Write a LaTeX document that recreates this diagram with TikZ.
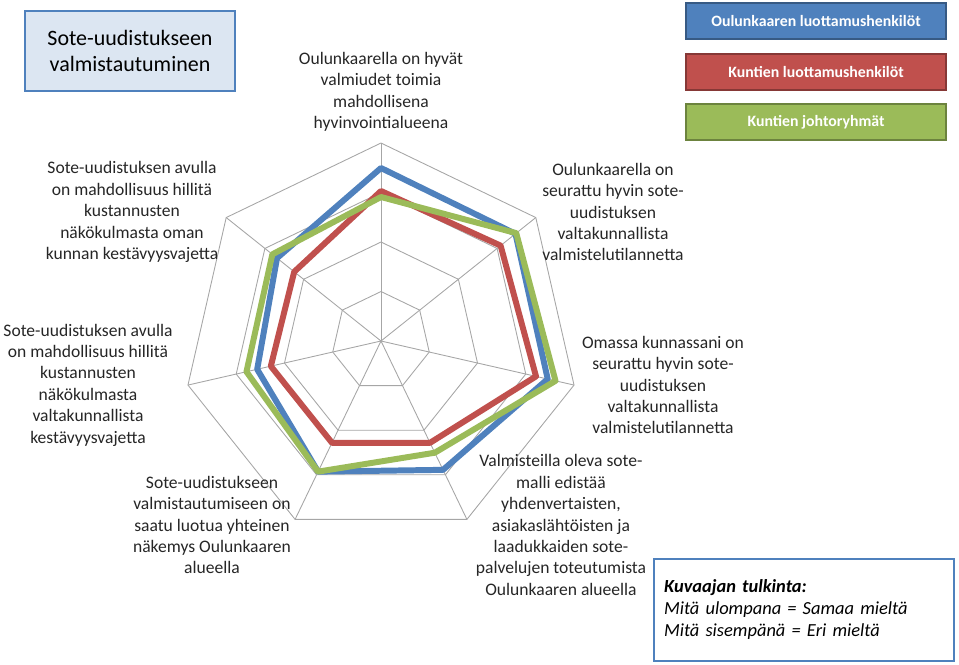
\documentclass[tikz,border=0pt]{standalone}
\usepackage{fontspec}
\setmainfont{Carlito}
\usepackage{tikz}
\definecolor{sblue}{HTML}{4F81BD}
\definecolor{sred}{HTML}{C0504D}
\definecolor{sgreen}{HTML}{9BBB59}
\definecolor{ink}{HTML}{262626}
\begin{document}
\begin{tikzpicture}[x=0.02cm,y=0.02cm,
  axis label/.style={align=center,text=ink,font=\fontsize{10}{12.2}\selectfont},
  legend box/.style={draw=#1!70!black,fill=#1,line width=1.2pt,minimum width=5.2cm,minimum height=0.72cm,text=white,font=\fontsize{9}{11}\bfseries\selectfont},
  series/.style={draw=#1,line width=3.4pt,line join=round}]

  \useasboundingbox (-381,-323) rectangle (578,341);

  % grid
  \foreach \r in {49.5,99,148.5,198}
    \draw[gray!70,line width=0.5pt] (90:\r) \foreach \k in {1,...,6} { -- ({90-\k*360/7}:\r) } -- cycle;
  \foreach \k in {0,...,6}
    \draw[gray!70,line width=0.5pt] (0,0) -- ({90-\k*360/7}:198);

  % data
  \draw[series=sred] (90:150) -- ({90-360/7}:153) -- ({90-2*360/7}:159) -- ({90-3*360/7}:113)
    -- ({90-4*360/7}:113) -- ({90-5*360/7}:113) -- ({90-6*360/7}:111) -- cycle;
  \draw[series=sblue] (90:173) -- ({90-360/7}:172) -- ({90-2*360/7}:171) -- ({90-3*360/7}:143)
    -- ({90-4*360/7}:145) -- ({90-5*360/7}:127) -- ({90-6*360/7}:133) -- cycle;
  \draw[series=sgreen] (90:144) -- ({90-360/7}:173) -- ({90-2*360/7}:179) -- ({90-3*360/7}:124)
    -- ({90-4*360/7}:145) -- ({90-5*360/7}:138) -- ({90-6*360/7}:139) -- cycle;

  % labels
  \node[axis label] (top) at (0,249) {Oulunkaarella on hyvät\\valmiudet toimia\\mahdollisena\\hyvinvointialueena};
  \node[axis label] (ur) at (232,129) {Oulunkaarella on\\seurattu hyvin sote-\\uudistuksen\\valtakunnallista\\valmistelutilannetta};
  \node[axis label] (r) at (282,-44) {Omassa kunnassani on\\seurattu hyvin sote-\\uudistuksen\\valtakunnallista\\valmistelutilannetta};
  \node[axis label] (lr) at (180,-184) {Valmisteilla oleva sote-\\malli edistää\\yhdenvertaisten,\\asiakaslähtöisten ja\\laadukkaiden sote-\\palvelujen toteutumista\\Oulunkaaren alueella};
  \node[axis label] (ll) at (-169,-184) {Sote-uudistukseen\\valmistautumiseen on\\saatu luotua yhteinen\\näkemys Oulunkaaren\\alueella};
  \node[axis label] (l) at (-293,-44) {Sote-uudistuksen avulla\\on mahdollisuus hillitä\\kustannusten\\näkökulmasta\\valtakunnallista\\kestävyysvajetta};
  \node[axis label] (ul) at (-249,129) {Sote-uudistuksen avulla\\on mahdollisuus hillitä\\kustannusten\\näkökulmasta oman\\kunnan kestävyysvajetta};

  % title
  \node[draw=sblue,fill=sblue!20,line width=1.5pt,minimum width=4.2cm,minimum height=1.6cm,align=center,
    font=\fontsize{12.5}{15}\selectfont] (title) at (-251,290) {Sote-uudistukseen\\valmistautuminen};

  % legend
  \node[legend box=sblue] (lg1) at (435,320) {Oulunkaaren luottamushenkilöt};
  \node[legend box=sred] (lg2) at (435,269) {Kuntien luottamushenkilöt};
  \node[legend box=sgreen] (lg3) at (435,219) {Kuntien johtoryhmät};

  % reading guide
  \node[draw=sblue,line width=1.2pt,minimum width=6cm,minimum height=2.04cm,anchor=south east,
    text width=5.6cm,align=left,font=\fontsize{10.5}{12.5}\itshape\selectfont] (guide) at (574,-321)
    {\textbf{Kuvaajan tulkinta:}\\Mitä ulompana = Samaa mieltä\\Mitä sisempänä = Eri mieltä};
\end{tikzpicture}
\end{document}
